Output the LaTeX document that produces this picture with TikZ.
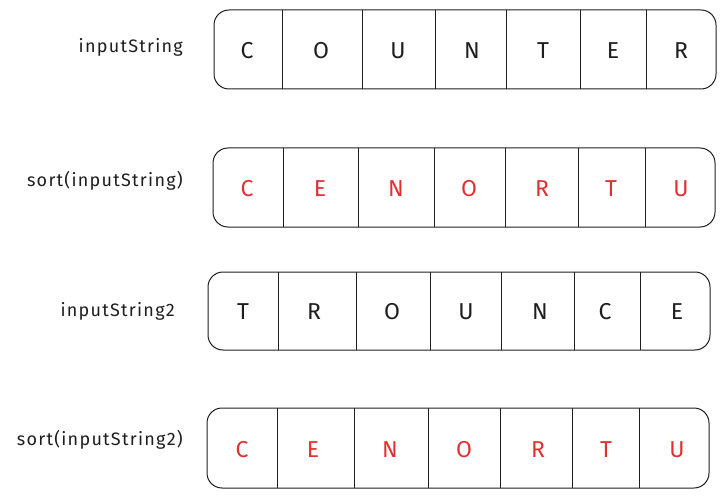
\documentclass[tikz,border=0pt]{standalone}
\usepackage{fontspec}
\setmainfont{Fira Sans}
\newfontfamily\labelfont[LetterSpace=7]{Fira Sans}
\definecolor{exred}{HTML}{E03131}
\definecolor{exink}{HTML}{1E1E1E}
\begin{document}
\begin{tikzpicture}[x=1pt,y=1pt,
  rowbox/.style={draw=exink,line width=1pt,rounded corners=15pt},
  divider/.style={draw=exink,line width=0.9pt},
  cellletter/.style={font=\fontsize{23}{23}\selectfont,text=exink,inner sep=0pt},
  redletter/.style={cellletter,text=exred},
  rowlabel/.style={font=\labelfont\fontsize{18}{18}\selectfont,text=exink,anchor=east,inner sep=0pt}]
\useasboundingbox (0,0) rectangle (726,-500);
% row 1
\draw[rowbox] (214,-10) rectangle (716,-89);
\foreach \x in {282,362,435,506,580,646} \draw[divider] (\x,-10) -- (\x,-89);
\node[rowlabel] (l1) at (183,-47) {inputString};
\foreach \c/\x [count=\i] in {C/247,O/321,U/398,N/472,T/543,E/613,R/681}
  \node[cellletter] (a\i) at (\x,-51) {\c};
% row 2
\draw[rowbox] (213,-148) rectangle (715,-227);
\foreach \x in {283,358,434,505,578,645} \draw[divider] (\x,-148) -- (\x,-227);
\node[rowlabel] (l2) at (183,-181) {sort(inputString)};
\foreach \c/\x [count=\i] in {C/247,E/320,N/396,O/469,R/542,T/611,U/681}
  \node[redletter] (b\i) at (\x,-189) {\c};
% row 3
\draw[rowbox] (208,-272) rectangle (710,-350);
\foreach \x in {278,356,430,501,574,640} \draw[divider] (\x,-272) -- (\x,-350);
\node[rowlabel] (l3) at (175,-311) {inputString2};
\foreach \c/\x [count=\i] in {T/243,R/314,O/392,U/466,N/540,C/605,E/677}
  \node[cellletter] (c\i) at (\x,-312) {\c};
% row 4
\draw[rowbox] (207,-408) rectangle (709,-488);
\foreach \x in {277,354,428,500,572,639} \draw[divider] (\x,-408) -- (\x,-488);
\node[rowlabel] (l4) at (183,-440) {sort(inputString2)};
\foreach \c/\x [count=\i] in {C/242,E/313,N/390,O/464,R/538,T/606,U/677}
  \node[redletter] (d\i) at (\x,-450) {\c};
\end{tikzpicture}
\end{document}
